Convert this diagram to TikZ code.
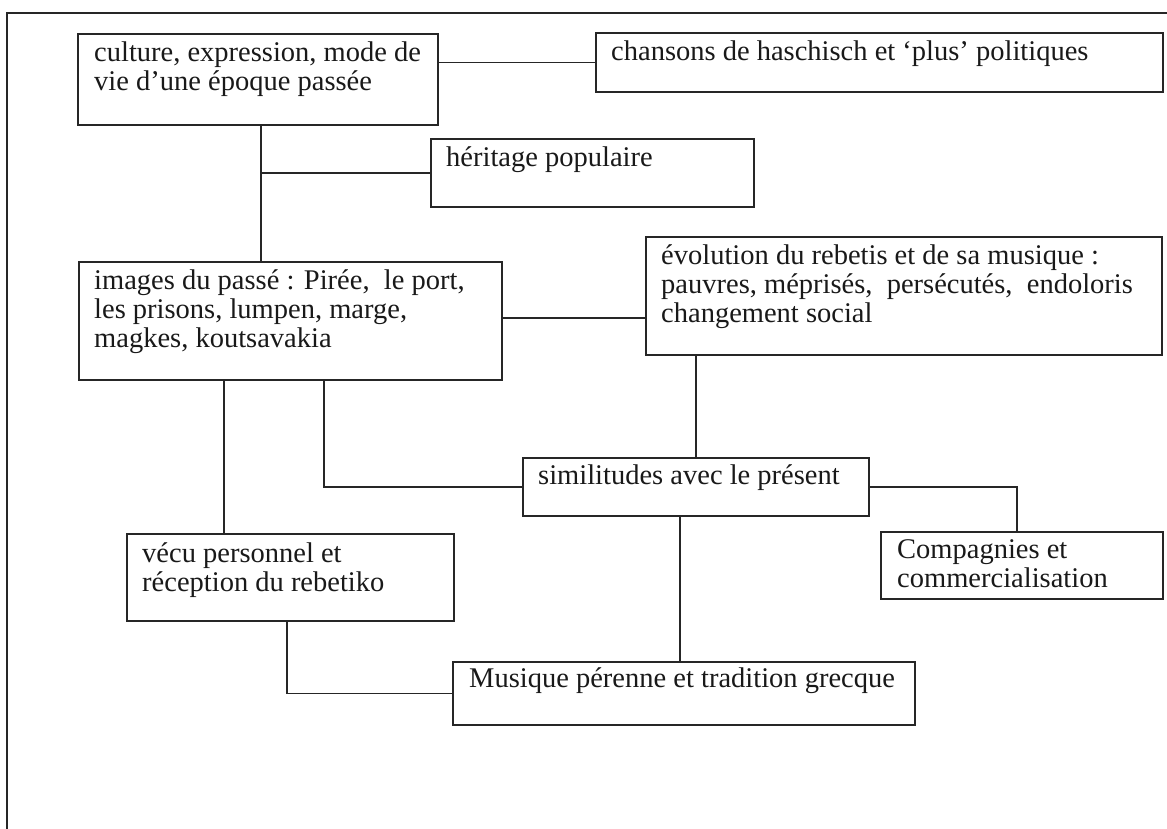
\documentclass[tikz,border=0pt]{standalone}
\usepackage{fontspec}
\setmainfont{Liberation Serif}
\newcommand\mylines[1]{\begin{tabular}[t]{@{}l@{}}#1\end{tabular}}
\begin{document}
\begin{tikzpicture}[x=1pt,y=-1pt,
  box/.style={draw=black!85, line width=1.4pt, rectangle, inner sep=0pt, outer sep=0pt, anchor=north west},
  txt/.style={inner sep=0pt, anchor=base west, text=black!90, font=\fontsize{28.5}{29}\selectfont},
  link/.style={draw=black!85, line width=1.4pt}]
\useasboundingbox (0,0) rectangle (1167,828);
\clip (0,0) rectangle (1167,828);
% outer frame
\draw[link] (7,840) -- (7,13) -- (1180,13);
% boxes
\node[box, minimum width=360pt, minimum height=91pt] (b1) at (78,34) {};
\node[box, minimum width=567pt, minimum height=59pt] (chans) at (596,33) {};
\node[box, minimum width=323pt, minimum height=68pt] (her) at (431,139) {};
\node[box, minimum width=423pt, minimum height=118pt] (img) at (79,262) {};
\node[box, minimum width=516pt, minimum height=118pt] (evo) at (646,237) {};
\node[box, minimum width=346pt, minimum height=58pt] (sim) at (523,458) {};
\node[box, minimum width=327pt, minimum height=87pt] (vec) at (127,534) {};
\node[box, minimum width=282pt, minimum height=67pt] (comp) at (881,532) {};
\node[box, minimum width=462pt, minimum height=63pt] (mus) at (453,662) {};
% texts
\node[txt] (t1) at ([shift={(16pt,-27pt)}]b1.north west) {\mylines{culture, expression, mode de\\vie d’une époque passée}};
\node[txt] (t2) at ([shift={(15pt,-27pt)}]chans.north west) {chansons de haschisch et ‘plus’ politiques};
\node[txt] (t3) at ([shift={(15pt,-27pt)}]her.north west) {héritage populaire};
\node[txt] (t4) at ([shift={(15pt,-27pt)}]img.north west) {\mylines{images du passé : Pirée,\ \ le port,\\les prisons, lumpen, marge,\\magkes, koutsavakia}};
\node[txt] (t5) at ([shift={(15pt,-27pt)}]evo.north west) {\mylines{évolution du rebetis et de sa musique :\\pauvres, méprisés,\ \ persécutés,\ \ endoloris\\changement social}};
\node[txt] (t6) at ([shift={(15pt,-26pt)}]sim.north west) {similitudes avec le présent};
\node[txt] (t7) at ([shift={(15pt,-28pt)}]vec.north west) {\mylines{vécu personnel et\\réception du rebetiko}};
\node[txt] (t8) at ([shift={(16pt,-26pt)}]comp.north west) {\mylines{Compagnies et\\commercialisation}};
\node[txt] (t9) at ([shift={(16pt,-25pt)}]mus.north west) {Musique pérenne et tradition grecque};
% connectors
\draw[link] (chans.west) -- (chans.west -| b1.east);
\coordinate (j1) at ([xshift=3pt]b1.south);
\draw[link] (j1) -- (j1 |- img.north);
\draw[link] (her.west) -- (her.west -| j1);
\draw[link] ([yshift=3pt]img.east) -- ([yshift=3pt]img.east -| evo.west);
\draw[link] (sim.north) -- (sim.north |- evo.south);
\draw[link] ([xshift=33.5pt]img.south) |- (sim.west);
\draw[link] ([xshift=-66.5pt]img.south) -- ([xshift=-66.5pt]img.south |- vec.north);
\draw[link] (sim.east) -| ([xshift=-5pt]comp.north);
\draw[link] ([xshift=-16pt]sim.south) -- ([xshift=-16pt]sim.south |- mus.north);
\draw[link] ([xshift=-3.5pt]vec.south) |- (mus.west);
\end{tikzpicture}
\end{document}
